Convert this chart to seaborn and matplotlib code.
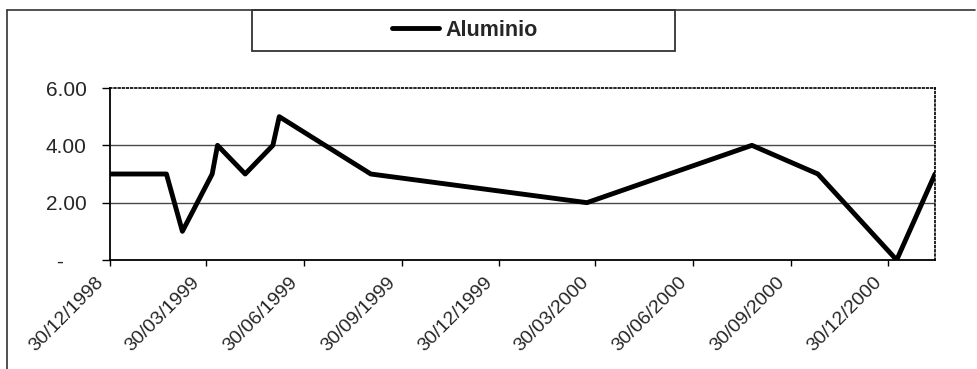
import matplotlib
matplotlib.use("Agg")
import matplotlib.pyplot as plt
import matplotlib.dates as mdates
import matplotlib.transforms as mtransforms
from matplotlib.lines import Line2D
from matplotlib.patches import Rectangle
import pandas as pd
import seaborn as sns

# Serie de precios del aluminio
fechas = ["1998-12-30", "1999-02-21", "1999-03-08", "1999-04-05", "1999-04-10",
          "1999-05-06", "1999-06-01", "1999-06-07", "1999-09-01", "2000-03-22",
          "2000-08-24", "2000-10-25", "2001-01-07", "2001-02-12"]
aluminio = [3, 3, 1, 3, 4, 3, 4, 5, 3, 2, 4, 3, 0, 3]

ticks_x = ["1998-12-30", "1999-03-30", "1999-06-30", "1999-09-30", "1999-12-30",
           "2000-03-30", "2000-06-30", "2000-09-30", "2000-12-30"]
ticks_y = [0, 2, 4, 6]
etiquetas_y = ["-    ", "2.00", "4.00", "6.00"]
serie = "Aluminio"

df = pd.DataFrame({"fecha": pd.to_datetime(fechas), "valor": aluminio})

sns.set_theme(style="white")
plt.rcParams["font.family"] = ["Liberation Sans", "DejaVu Sans"]

W, H = 978, 369
fig = plt.figure(figsize=(W / 100, H / 100), dpi=100)
ax = fig.add_axes([110 / W, 1 - 260 / H, (935 - 110) / W, (260 - 88) / H])

sns.lineplot(data=df, x="fecha", y="valor", color="black", linewidth=3.5,
             ax=ax, legend=False)

ax.set_xlim(df["fecha"].iloc[0], df["fecha"].iloc[-1])
ax.set_ylim(0, 6)
ax.set_xlabel("")
ax.set_ylabel("")

ax.set_yticks(ticks_y)
ax.set_yticklabels(etiquetas_y, fontsize=15)
ax.set_xticks(pd.to_datetime(ticks_x))
ax.xaxis.set_major_formatter(mdates.DateFormatter("%d/%m/%Y"))

ax.tick_params(axis="y", which="major", direction="out", length=6, width=1,
               color="black", pad=11, left=True)
ax.tick_params(axis="x", which="major", direction="out", length=4, width=1,
               color="black", pad=6, bottom=True)

# etiquetas de fecha giradas, desplazadas para terminar junto a la marca
shift = mtransforms.ScaledTranslation(-15 / 100, 0, fig.dpi_scale_trans)
for lbl in ax.get_xticklabels():
    lbl.set_rotation(45)
    lbl.set_ha("right")
    lbl.set_rotation_mode("anchor")
    lbl.set_fontsize(14)
    lbl.set_transform(lbl.get_transform() + shift)

# líneas de cuadrícula horizontales
for y in (2, 4):
    ax.axhline(y, color="#4a4a4a", linewidth=1.0, zorder=0)

# bordes del área de trazado
ax.spines["left"].set_color("black")
ax.spines["left"].set_linewidth(1.3)
ax.spines["bottom"].set_color("black")
ax.spines["bottom"].set_linewidth(1.3)
for s in ("top", "right"):
    ax.spines[s].set_visible(True)
    ax.spines[s].set_color("black")
    ax.spines[s].set_linewidth(1.2)
    ax.spines[s].set_linestyle((0, (1, 1.5)))

# marco del gráfico
fig.add_artist(Line2D([7 / W, 975 / W], [1 - 10 / H, 1 - 10 / H],
                      color="#333333", linewidth=1.2, transform=fig.transFigure))
fig.add_artist(Line2D([7 / W, 7 / W], [1 - 10 / H, 0],
                      color="#333333", linewidth=1.2, transform=fig.transFigure))

# cuadro de leyenda
fig.add_artist(Rectangle((252 / W, 1 - 51 / H), (675 - 252) / W, 41 / H,
                         fill=False, edgecolor="#333333", linewidth=1.3,
                         transform=fig.transFigure))
handle = Line2D([], [], color="black", linewidth=3.5)
fig.legend([handle], [serie], loc="center",
           bbox_to_anchor=(465 / W, 1 - 30 / H), frameon=False,
           prop={"size": 15.5, "weight": "bold"}, handlelength=2.2,
           handletextpad=0.3)

fig.savefig("out.png", dpi=100, facecolor="white")
